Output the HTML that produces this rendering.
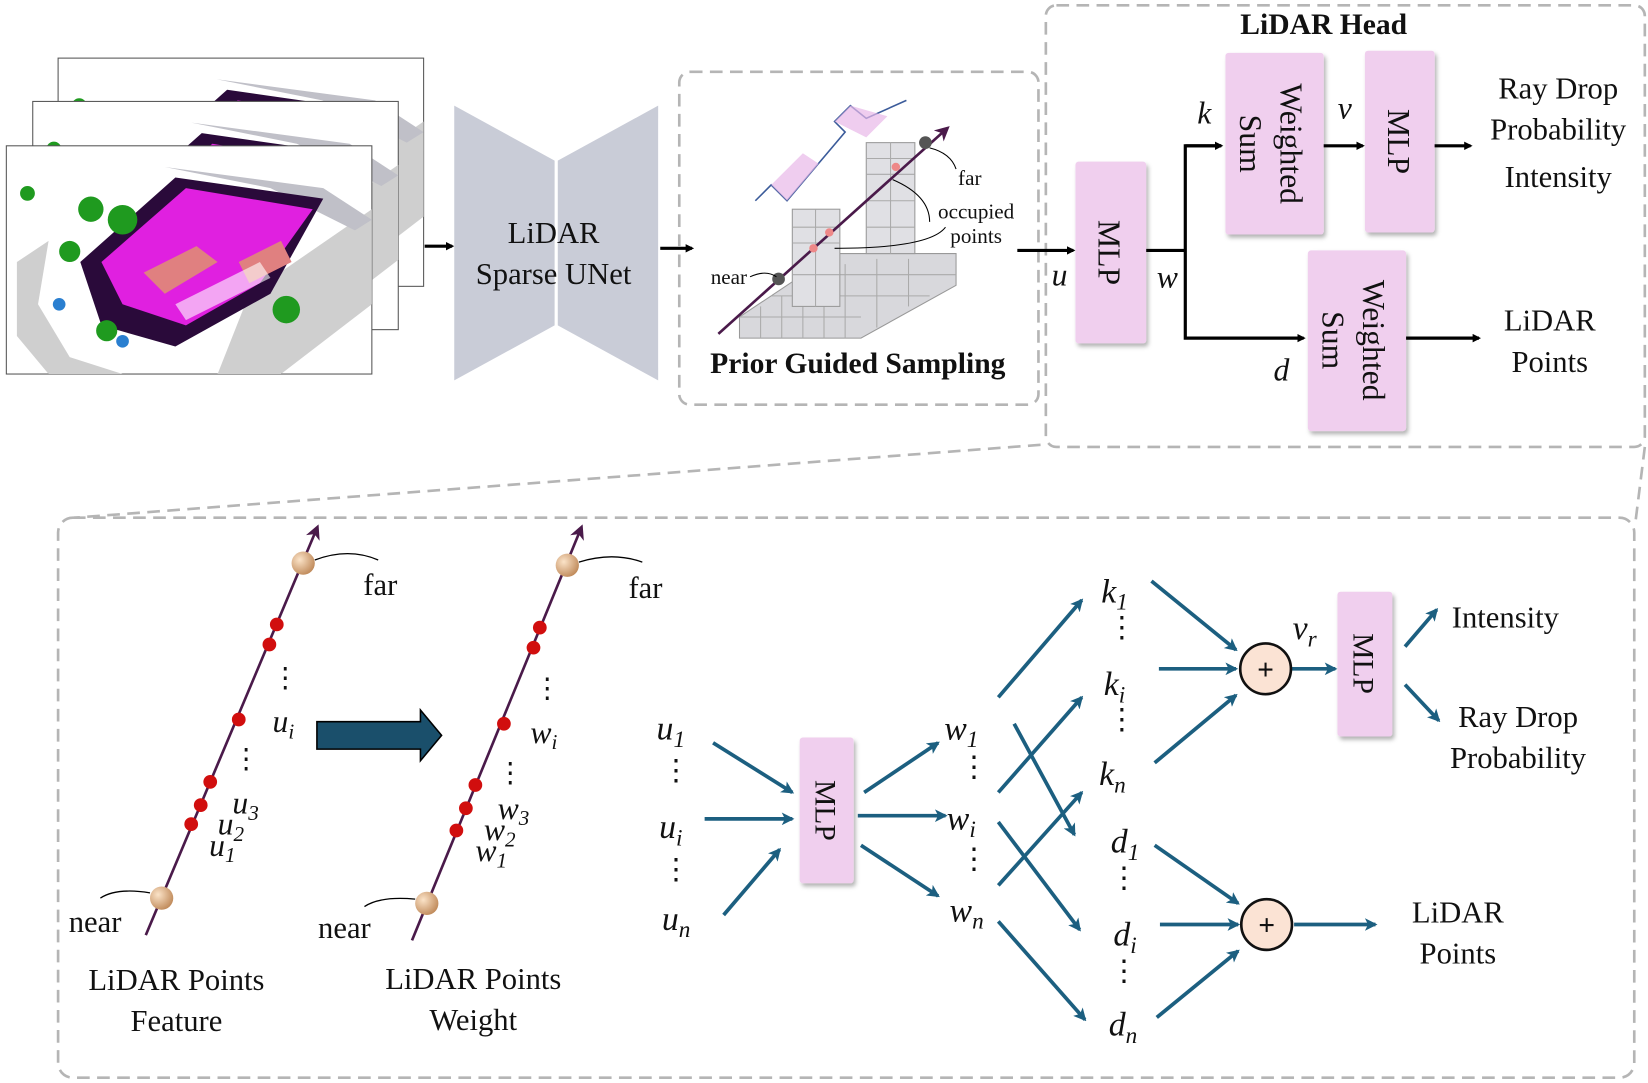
<!DOCTYPE html>
<html><head><meta charset="utf-8"><style>
html,body{margin:0;padding:0;background:#fff;}
svg{display:block;}
text{font-family:"Liberation Serif",serif;fill:#111;}
.it{font-style:italic;}
.up{font-style:normal;}
</style></head><body>
<svg width="1648" height="1083" viewBox="0 0 1560 1025" preserveAspectRatio="none" xmlns="http://www.w3.org/2000/svg">
<defs>
<marker id="ab" markerWidth="8" markerHeight="8" refX="6" refY="4" orient="auto" markerUnits="userSpaceOnUse"><path d="M0,0 L8,4 L0,8 Z" fill="#000"/></marker>
<marker id="at" markerWidth="12" markerHeight="12" refX="10" refY="6" orient="auto" markerUnits="userSpaceOnUse"><path d="M0,0 L12,6 L0,12 L3,6 Z" fill="#1c5f80"/></marker>
<marker id="ap" markerWidth="14" markerHeight="14" refX="10" refY="7" orient="auto" markerUnits="userSpaceOnUse"><path d="M0,0 L14,7 L0,14 L4,7 Z" fill="#4a1a4a"/></marker>
<filter id="sh" x="-20%" y="-20%" width="150%" height="150%"><feDropShadow dx="2" dy="3" stdDeviation="2" flood-color="#000" flood-opacity="0.3"/></filter>
<g id="pc">
<rect width="346" height="216" fill="#fff" stroke="#555" stroke-width="1"/>
<polygon points="10,110 40,90 30,150 60,200 110,216 40,216 10,180" fill="#cfcfcf"/>
<polygon points="230,140 346,60 346,150 260,216 200,216" fill="#cfcfcf"/>
<polygon points="150,20 300,40 346,70 330,80 250,40" fill="#c0c0c8"/>
<polygon points="70,110 160,30 300,50 250,140 160,190 90,170" fill="#2a0a3a"/>
<polygon points="90,110 170,40 290,60 240,130 170,170 110,150" fill="#e020e0"/>
<polygon points="130,120 180,95 200,110 150,140" fill="#e08080"/>
<polygon points="220,110 260,90 270,110 230,130" fill="#e08080"/>
<polygon points="160,150 240,110 250,125 170,165" fill="#ffffff" opacity="0.6"/>
<circle cx="80" cy="60" r="12" fill="#1f9a1f"/><circle cx="110" cy="70" r="14" fill="#1f9a1f"/><circle cx="60" cy="100" r="10" fill="#1f9a1f"/>
<circle cx="95" cy="175" r="10" fill="#1f9a1f"/><circle cx="265" cy="155" r="13" fill="#1f9a1f"/><circle cx="20" cy="45" r="7" fill="#1f9a1f"/>
<circle cx="50" cy="150" r="6" fill="#2a7fd0"/><circle cx="110" cy="185" r="6" fill="#2a7fd0"/>
</g>
</defs>
<use href="#pc" x="55" y="55"/>
<use href="#pc" x="31" y="96"/>
<use href="#pc" x="6" y="138"/>
<line x1="402" y1="233" x2="428" y2="233" stroke="#000" stroke-width="3" marker-end="url(#ab)"/>
<polygon points="430,100 525,152 525,308 430,360" fill="#c9ccd7"/>
<polygon points="528,152 623,100 623,360 528,308" fill="#c9ccd7"/>
<text x="524" y="230" font-size="29" text-anchor="middle">LiDAR</text>
<text x="524" y="269" font-size="29" text-anchor="middle">Sparse UNet</text>
<line x1="625" y1="235" x2="655" y2="235" stroke="#000" stroke-width="3" marker-end="url(#ab)"/>
<rect x="643" y="68" width="340" height="315" rx="10" fill="none" stroke="#b5b5b5" stroke-width="2.5" stroke-dasharray="12,7"/>
<polygon points="700,300 790,240 905,240 905,270 815,320 700,320" fill="#d8d8dc" stroke="#999"/>
<g stroke="#aaa" stroke-width="1">
<line x1="720" y1="290" x2="720" y2="320"/><line x1="740" y1="280" x2="740" y2="320"/><line x1="760" y1="270" x2="760" y2="320"/><line x1="780" y1="260" x2="780" y2="320"/><line x1="800" y1="250" x2="800" y2="320"/><line x1="830" y1="245" x2="830" y2="310"/><line x1="860" y1="245" x2="860" y2="290"/>
<line x1="700" y1="300" x2="815" y2="300"/><line x1="730" y1="280" x2="880" y2="280"/><line x1="760" y1="260" x2="905" y2="260"/>
</g>
<rect x="750" y="198" width="45" height="92" fill="#e0e0e4" stroke="#999"/>
<rect x="820" y="135" width="46" height="105" fill="#e0e0e4" stroke="#999"/>
<g stroke="#aaa"><line x1="750" y1="215" x2="795" y2="215"/><line x1="750" y1="230" x2="795" y2="230"/><line x1="750" y1="260" x2="795" y2="260"/><line x1="772" y1="198" x2="772" y2="290"/><line x1="820" y1="150" x2="866" y2="150"/><line x1="820" y1="165" x2="866" y2="165"/><line x1="820" y1="190" x2="866" y2="190"/><line x1="820" y1="215" x2="866" y2="215"/><line x1="843" y1="135" x2="843" y2="240"/></g>
<polyline points="715,190 730,175 745,190 800,125 790,115 805,100 820,112 858,95" fill="none" stroke="#3b5b9a" stroke-width="1.5"/>
<polygon points="730,175 745,190 775,155 760,145" fill="#e8b8e8" opacity="0.7"/>
<polygon points="790,115 805,100 840,110 820,130" fill="#e8b8e8" opacity="0.7"/>
<line x1="680" y1="316" x2="896" y2="122" stroke="#4a1a4a" stroke-width="2.5" marker-end="url(#ap)"/>
<circle cx="737" cy="264" r="6" fill="#555"/><circle cx="876" cy="135" r="6" fill="#555"/>
<circle cx="770" cy="235" r="4" fill="#e88"/><circle cx="785" cy="220" r="4" fill="#e88"/><circle cx="848" cy="158" r="4" fill="#e88"/>
<path d="M880,140 Q900,145 905,160" fill="none" stroke="#000"/>
<path d="M845,170 Q880,185 880,210" fill="none" stroke="#000"/>
<path d="M790,235 Q880,235 895,215" fill="none" stroke="#000"/>
<path d="M710,262 Q725,255 735,262" fill="none" stroke="#000"/>
<text x="918" y="175" font-size="20" text-anchor="middle">far</text>
<text x="924" y="207" font-size="20" text-anchor="middle">occupied</text>
<text x="924" y="230" font-size="20" text-anchor="middle">points</text>
<text x="690" y="269" font-size="20" text-anchor="middle">near</text>
<text x="812" y="353" font-size="28" font-weight="bold" text-anchor="middle">Prior Guided Sampling</text>
<rect x="990" y="5" width="567" height="418" rx="10" fill="none" stroke="#b5b5b5" stroke-width="2.5" stroke-dasharray="12,7"/>
<text x="1253" y="32" font-size="28" font-weight="bold" text-anchor="middle">LiDAR Head</text>
<g fill="#f0cfee" filter="url(#sh)">
<rect x="1018" y="153" width="67" height="172" rx="3"/>
<rect x="1160" y="50" width="93" height="172" rx="3"/>
<rect x="1292" y="48" width="66" height="172" rx="3"/>
<rect x="1238" y="237" width="93" height="171" rx="3"/>
<rect x="1266" y="560" width="52" height="137" rx="3"/>
<rect x="757" y="698" width="51" height="138" rx="3"/>
</g>
<text transform="translate(1040,239) rotate(90)" font-size="30" text-anchor="middle">MLP</text>
<text transform="translate(1314,134) rotate(90)" font-size="30" text-anchor="middle">MLP</text>
<text transform="translate(1212,136) rotate(90)" font-size="30" text-anchor="middle">Weighted</text>
<text transform="translate(1174,136) rotate(90)" font-size="30" text-anchor="middle">Sum</text>
<text transform="translate(1290,322) rotate(90)" font-size="30" text-anchor="middle">Weighted</text>
<text transform="translate(1252,322) rotate(90)" font-size="30" text-anchor="middle">Sum</text>
<text transform="translate(1281,628) rotate(90)" font-size="28" text-anchor="middle">MLP</text>
<text transform="translate(772,767) rotate(90)" font-size="28" text-anchor="middle">MLP</text>
<g stroke="#000" stroke-width="3" fill="none">
<line x1="963" y1="237" x2="1016" y2="237" marker-end="url(#ab)"/>
<polyline points="1085,237 1122,237"/>
<polyline points="1156,138 1122,138 1122,320 1234,320" marker-end="url(#ab)"/>
<line x1="1122" y1="138" x2="1156" y2="138" marker-end="url(#ab)"/>
<line x1="1253" y1="138" x2="1290" y2="138" marker-end="url(#ab)"/>
<line x1="1358" y1="138" x2="1392" y2="138" marker-end="url(#ab)"/>
<line x1="1331" y1="320" x2="1400" y2="320" marker-end="url(#ab)"/>
</g>
<text x="1003" y="270" font-size="30" class="it" text-anchor="middle">u</text>
<text x="1105" y="272" font-size="30" class="it" text-anchor="middle">w</text>
<text x="1140" y="117" font-size="30" class="it" text-anchor="middle">k</text>
<text x="1213" y="360" font-size="30" class="it" text-anchor="middle">d</text>
<text x="1273" y="112" font-size="30" class="it" text-anchor="middle">v</text>
<text x="1475" y="93" font-size="29" text-anchor="middle">Ray Drop</text>
<text x="1475" y="132" font-size="29" text-anchor="middle">Probability</text>
<text x="1475" y="177" font-size="29" text-anchor="middle">Intensity</text>
<text x="1467" y="313" font-size="29" text-anchor="middle">LiDAR</text>
<text x="1467" y="352" font-size="29" text-anchor="middle">Points</text>
<line x1="985" y1="421" x2="70" y2="490" stroke="#b5b5b5" stroke-width="2.5" stroke-dasharray="12,7"/>
<line x1="1557" y1="423" x2="1548" y2="495" stroke="#b5b5b5" stroke-width="2.5" stroke-dasharray="12,7"/>
<rect x="55" y="490" width="1492" height="530" rx="14" fill="none" stroke="#b5b5b5" stroke-width="2.5" stroke-dasharray="12,7"/>
<defs><radialGradient id="ball" cx="0.35" cy="0.35" r="0.7"><stop offset="0" stop-color="#fbe3c8"/><stop offset="1" stop-color="#c08a5a"/></radialGradient></defs>
<line x1="138" y1="885" x2="300" y2="500" stroke="#4a1a4a" stroke-width="2.5" marker-end="url(#ap)"/>
<line x1="390" y1="890" x2="550" y2="500" stroke="#4a1a4a" stroke-width="2.5" marker-end="url(#ap)"/>
<g fill="#d10e0e">
<circle cx="262" cy="591" r="6.5"/><circle cx="255" cy="610" r="6.5"/><circle cx="226" cy="681" r="6.5"/><circle cx="199" cy="740" r="6.5"/><circle cx="190" cy="762" r="6.5"/><circle cx="181" cy="780" r="6.5"/>
<circle cx="511" cy="594" r="6.5"/><circle cx="505" cy="613" r="6.5"/><circle cx="477" cy="685" r="6.5"/><circle cx="450" cy="743" r="6.5"/><circle cx="441" cy="765" r="6.5"/><circle cx="432" cy="786" r="6.5"/>
</g>
<g fill="url(#ball)"><circle cx="287" cy="533" r="11"/><circle cx="153" cy="850" r="11"/><circle cx="537" cy="535" r="11"/><circle cx="404" cy="855" r="11"/></g>
<g fill="none" stroke="#000" stroke-width="1.2">
<path d="M298,530 Q330,518 358,530"/><path d="M142,845 Q110,840 95,850"/>
<path d="M548,532 Q580,522 608,532"/><path d="M393,851 Q360,848 345,858"/>
</g>
<text x="360" y="563" font-size="29" text-anchor="middle">far</text>
<text x="90" y="882" font-size="29" text-anchor="middle">near</text>
<text x="611" y="566" font-size="29" text-anchor="middle">far</text>
<text x="326" y="888" font-size="29" text-anchor="middle">near</text>
<g font-size="30" class="it">
<text x="270" y="650" font-size="26" class="up" text-anchor="middle">⋮</text>
<text x="258" y="693">u<tspan font-size="20" dy="6">i</tspan></text>
<text x="233" y="727" font-size="26" class="up" text-anchor="middle">⋮</text>
<text x="220" y="770">u<tspan font-size="20" dy="6">3</tspan></text>
<text x="206" y="790">u<tspan font-size="20" dy="6">2</tspan></text>
<text x="198" y="810">u<tspan font-size="20" dy="6">1</tspan></text>
<text x="518" y="660" font-size="26" class="up" text-anchor="middle">⋮</text>
<text x="502" y="703">w<tspan font-size="20" dy="6">i</tspan></text>
<text x="483" y="740" font-size="26" class="up" text-anchor="middle">⋮</text>
<text x="471" y="775">w<tspan font-size="20" dy="6">3</tspan></text>
<text x="458" y="795">w<tspan font-size="20" dy="6">2</tspan></text>
<text x="450" y="815">w<tspan font-size="20" dy="6">1</tspan></text>
</g>
<polygon points="300,683 398,683 398,672 418,696 398,720 398,709 300,709" fill="#1a4f6b" stroke="#000" stroke-width="1.5"/>
<text x="167" y="937" font-size="29" text-anchor="middle">LiDAR Points</text>
<text x="167" y="976" font-size="29" text-anchor="middle">Feature</text>
<text x="448" y="936" font-size="29" text-anchor="middle">LiDAR Points</text>
<text x="448" y="975" font-size="29" text-anchor="middle">Weight</text>
<g font-size="32" class="it" text-anchor="middle">
<text x="635" y="700">u<tspan font-size="22" dy="7">1</tspan></text>
<text x="640" y="738" font-size="28" class="up">⋮</text>
<text x="635" y="793">u<tspan font-size="22" dy="7">i</tspan></text>
<text x="640" y="832" font-size="28" class="up">⋮</text>
<text x="640" y="880">u<tspan font-size="22" dy="7">n</tspan></text>
<text x="910" y="700">w<tspan font-size="22" dy="7">1</tspan></text>
<text x="922" y="735" font-size="28" class="up">⋮</text>
<text x="910" y="785">w<tspan font-size="22" dy="7">i</tspan></text>
<text x="922" y="822" font-size="28" class="up">⋮</text>
<text x="915" y="872">w<tspan font-size="22" dy="7">n</tspan></text>
<text x="1055" y="570">k<tspan font-size="22" dy="7">1</tspan></text>
<text x="1062" y="603" font-size="28" class="up">⋮</text>
<text x="1055" y="658">k<tspan font-size="22" dy="7">i</tspan></text>
<text x="1062" y="690" font-size="28" class="up">⋮</text>
<text x="1053" y="743">k<tspan font-size="22" dy="7">n</tspan></text>
<text x="1065" y="807">d<tspan font-size="22" dy="7">1</tspan></text>
<text x="1064" y="840" font-size="28" class="up">⋮</text>
<text x="1065" y="895">d<tspan font-size="22" dy="7">i</tspan></text>
<text x="1064" y="928" font-size="28" class="up">⋮</text>
<text x="1063" y="980">d<tspan font-size="22" dy="7">n</tspan></text>
<text x="1235" y="605">v<tspan font-size="22" dy="7">r</tspan></text>
</g>
<g stroke="#1c5f80" stroke-width="3.5" marker-end="url(#at)">
<line x1="675" y1="703" x2="750" y2="750"/><line x1="667" y1="775" x2="750" y2="775"/><line x1="685" y1="866" x2="738" y2="804"/>
<line x1="818" y1="750" x2="888" y2="703"/><line x1="812" y1="772" x2="895" y2="772"/><line x1="815" y1="800" x2="888" y2="848"/>
<line x1="945" y1="660" x2="1024" y2="568"/><line x1="945" y1="750" x2="1024" y2="660"/><line x1="945" y1="838" x2="1024" y2="750"/>
<line x1="960" y1="685" x2="1017" y2="790"/><line x1="945" y1="778" x2="1022" y2="880"/><line x1="945" y1="872" x2="1027" y2="965"/>
<line x1="1090" y1="550" x2="1170" y2="615"/><line x1="1097" y1="633" x2="1170" y2="633"/><line x1="1093" y1="722" x2="1170" y2="658"/>
<line x1="1223" y1="633" x2="1264" y2="633"/>
<line x1="1330" y1="612" x2="1360" y2="577"/><line x1="1330" y1="648" x2="1362" y2="682"/>
<line x1="1093" y1="800" x2="1172" y2="855"/><line x1="1098" y1="875" x2="1172" y2="875"/><line x1="1095" y1="963" x2="1172" y2="900"/>
<line x1="1225" y1="875" x2="1302" y2="875"/>
</g>
<g stroke="#111" stroke-width="2.5" fill="#fbe3d4"><circle cx="1198" cy="633" r="24"/><circle cx="1199" cy="875" r="24"/></g>
<text x="1198" y="643" font-size="28" text-anchor="middle" font-weight="bold">+</text>
<text x="1199" y="885" font-size="28" text-anchor="middle" font-weight="bold">+</text>
<text x="1425" y="594" font-size="29" text-anchor="middle">Intensity</text>
<text x="1437" y="688" font-size="29" text-anchor="middle">Ray Drop</text>
<text x="1437" y="727" font-size="29" text-anchor="middle">Probability</text>
<text x="1380" y="873" font-size="29" text-anchor="middle">LiDAR</text>
<text x="1380" y="912" font-size="29" text-anchor="middle">Points</text>
</svg>
</body></html>
